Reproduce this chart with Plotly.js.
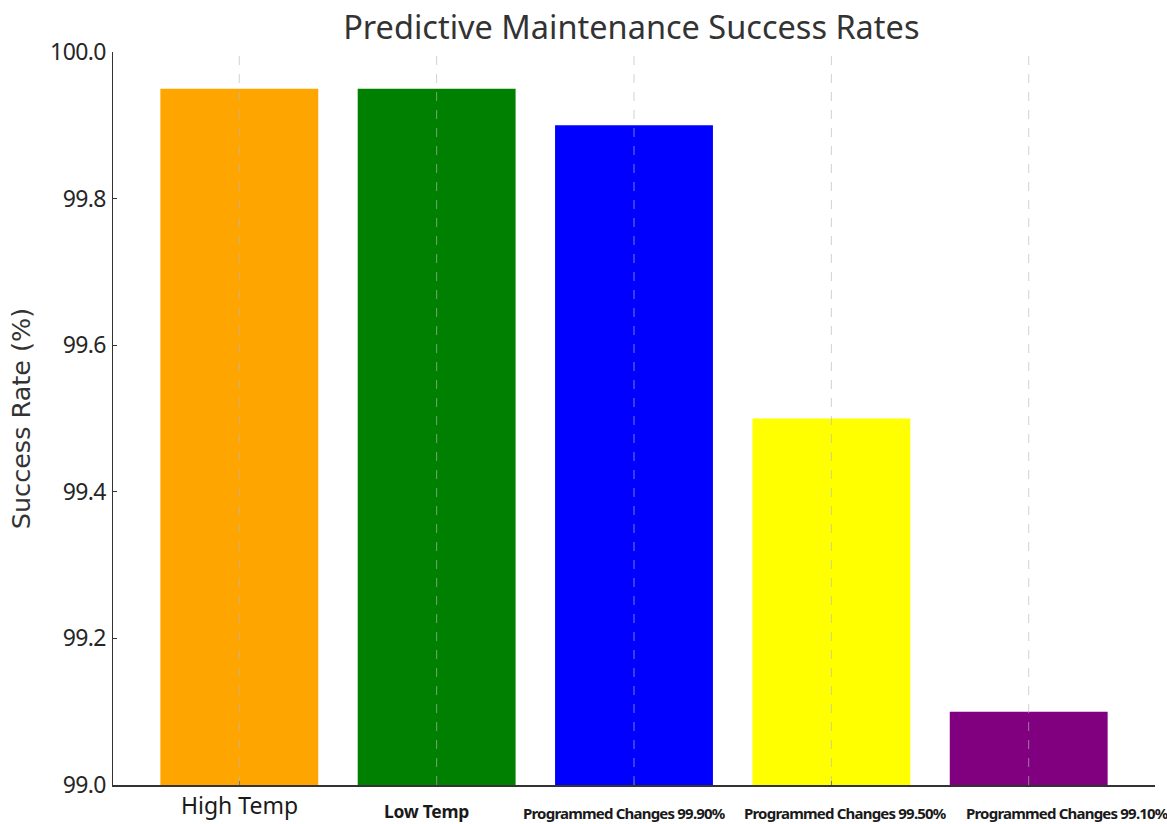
<!DOCTYPE html>
<html>
<head>
<meta charset="utf-8">
<script src="https://cdn.plot.ly/plotly-3.0.1.min.js"></script>
<style>
  html, body { margin: 0; padding: 0; background: #fff; }
  #chart { width: 1167px; height: 824px; }
</style>
</head>
<body>
<div id="chart"></div>
<script>
// Success rate per maintenance scenario (percent)
const categories = [
  "High Temp",
  "Low Temp",
  "Programmed Changes 99.90%",
  "Programmed Changes 99.50%",
  "Programmed Changes 99.10%"
];
const successRates = [99.95, 99.95, 99.90, 99.50, 99.10];
const barColors = ["orange", "green", "blue", "yellow", "purple"];
const yTickValues = [99.0, 99.2, 99.4, 99.6, 99.8, 100.0];

// Category label typography and placement under the axis
const labelSizes = [23, 17.5, 15, 15, 15];
const labelBold = [false, true, true, true, true];
const labelSpacing = [0, -0.3, -0.8, -0.8, -0.8];
const labelShiftX = [0, -10.5, -9.5, 14.5, 39];
const labelShiftY = [-3, -13, -17, -17, -17];

const labelAnnotations = categories.map((c, i) => {
  let t = labelBold[i] ? "<b>" + c + "</b>" : c;
  if (labelSpacing[i]) t = '<span style="letter-spacing:' + labelSpacing[i] + 'px">' + t + "</span>";
  return {
    xref: "x", yref: "paper",
    x: c, y: 0,
    xanchor: "center", yanchor: "top",
    xshift: labelShiftX[i], yshift: labelShiftY[i],
    showarrow: false,
    borderpad: 0,
    text: t,
    font: { size: labelSizes[i], color: "#1a1a1a", family: "Noto Sans, DejaVu Sans, sans-serif" }
  };
});

// Slightly tightened y tick labels
const yTickText = yTickValues.map(v => '<span style="letter-spacing:-0.6px">' + v.toFixed(1) + "</span>");

const trace = {
  type: "bar",
  x: categories,
  y: successRates,
  marker: { color: barColors, line: { width: 0 } },
  hoverinfo: "x+y"
};

// Dashed vertical guides at each category, drawn over the bars
const guides = categories.map(c => ({
  type: "line",
  xref: "x", yref: "paper",
  x0: c, x1: c, y0: 0, y1: 1,
  layer: "above",
  line: { color: "rgba(185,185,185,0.65)", width: 1, dash: "dash" }
}));

const layout = {
  width: 1167,
  height: 824,
  paper_bgcolor: "#fff",
  plot_bgcolor: "#fff",
  margin: { l: 113, r: 12, t: 52, b: 39 },
  font: { family: "Noto Sans, DejaVu Sans, sans-serif", color: "#262626" },
  title: {
    text: "Predictive Maintenance Success Rates",
    font: { size: 32.5, color: "#333333", family: "Noto Sans, DejaVu Sans, sans-serif" },
    x: 0.541, xanchor: "center",
    y: 0.967, yanchor: "middle"
  },
  bargap: 0.2,
  showlegend: false,
  xaxis: {
    type: "category",
    range: [-0.64, 4.64],
    tickvals: categories,
    showticklabels: false,
    showgrid: false,
    zeroline: false,
    showline: true,
    linecolor: "#333",
    linewidth: 1.5,
    ticks: "inside",
    ticklen: 4,
    tickcolor: "#333",
    automargin: false
  },
  yaxis: {
    range: [99.0, 100.0],
    tickvals: yTickValues,
    ticktext: yTickText,
    tickfont: { size: 23, color: "#262626" },
    ticklabelstandoff: 1,
    showgrid: false,
    zeroline: false,
    showline: true,
    linecolor: "#333",
    linewidth: 1.5,
    ticks: "inside",
    ticklen: 4,
    tickcolor: "#333",
    title: {
      text: "Success Rate (%)",
      font: { size: 25.5, color: "#333333", family: "DejaVu Sans, sans-serif" },
      standoff: 12
    },
    automargin: false
  },
  shapes: guides,
  annotations: labelAnnotations
};

Plotly.newPlot("chart", [trace], layout, { displayModeBar: false, staticPlot: true });
</script>
</body>
</html>
